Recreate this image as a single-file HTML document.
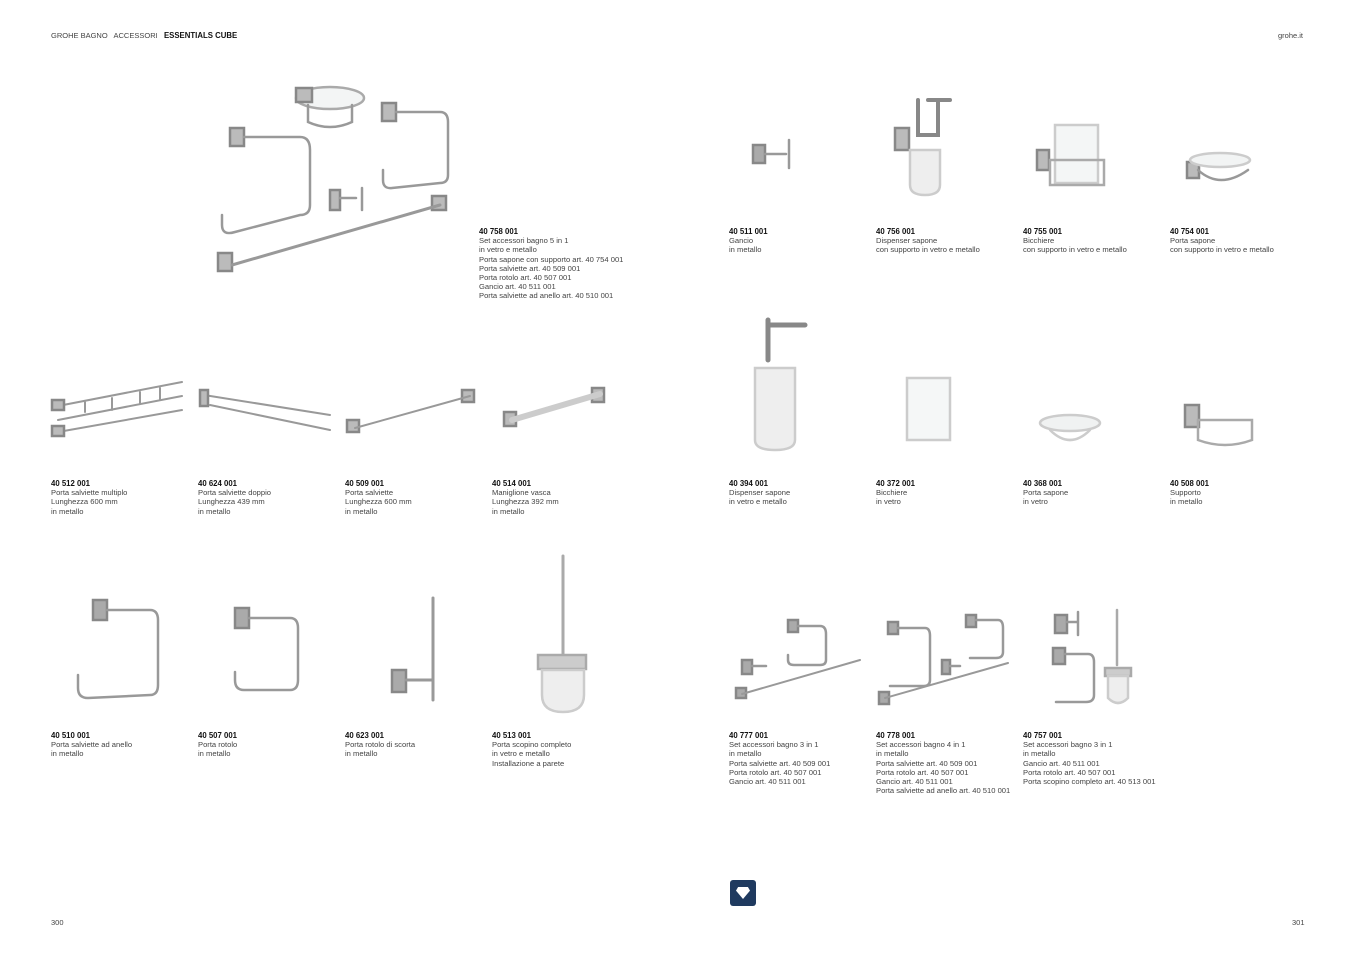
<!DOCTYPE html>
<html><head><meta charset="utf-8"><style>
body{margin:0;width:1355px;height:958px;background:#fff;position:relative;overflow:hidden;font-family:"Liberation Sans",sans-serif;color:#333}
.t{position:absolute;font-size:7.6px;line-height:9.2px;white-space:nowrap;color:#444}
.t b{color:#111;font-size:7.8px}
svg{position:absolute;left:0;top:0}
</style></head><body>
<div class="t" style="left:51px;top:31px;font-size:7.5px">GROHE BAGNO&nbsp;&nbsp; ACCESSORI&nbsp;&nbsp; <b>ESSENTIALS CUBE</b></div>
<div class="t" style="left:1278px;top:31px;font-size:7.5px">grohe.it</div>
<div class="t" style="left:51px;top:918px;font-size:7.5px">300</div>
<div class="t" style="left:1292px;top:918px;font-size:7.5px">301</div>
<div style="position:absolute;left:730px;top:880px;width:26px;height:26px;background:#1f3a5f;border-radius:3px"></div>
<div style="position:absolute;left:736px;top:887px;width:14px;height:12px;background:#fff;clip-path:polygon(15% 0,85% 0,100% 30%,50% 100%,0 30%)"></div>

<div class="t" style="left:479px;top:227px"><b>40 758 001</b><br>Set accessori bagno 5 in 1<br>in vetro e metallo<br>Porta sapone con supporto art. 40 754 001<br>Porta salviette art. 40 509 001<br>Porta rotolo art. 40 507 001<br>Gancio art. 40 511 001<br>Porta salviette ad anello art. 40 510 001</div>
<div class="t" style="left:729px;top:227px"><b>40 511 001</b><br>Gancio<br>in metallo</div>
<div class="t" style="left:876px;top:227px"><b>40 756 001</b><br>Dispenser sapone<br>con supporto in vetro e metallo</div>
<div class="t" style="left:1023px;top:227px"><b>40 755 001</b><br>Bicchiere<br>con supporto in vetro e metallo</div>
<div class="t" style="left:1170px;top:227px"><b>40 754 001</b><br>Porta sapone<br>con supporto in vetro e metallo</div>

<div class="t" style="left:51px;top:479px"><b>40 512 001</b><br>Porta salviette multiplo<br>Lunghezza 600 mm<br>in metallo</div>
<div class="t" style="left:198px;top:479px"><b>40 624 001</b><br>Porta salviette doppio<br>Lunghezza 439 mm<br>in metallo</div>
<div class="t" style="left:345px;top:479px"><b>40 509 001</b><br>Porta salviette<br>Lunghezza 600 mm<br>in metallo</div>
<div class="t" style="left:492px;top:479px"><b>40 514 001</b><br>Maniglione vasca<br>Lunghezza 392 mm<br>in metallo</div>
<div class="t" style="left:729px;top:479px"><b>40 394 001</b><br>Dispenser sapone<br>in vetro e metallo</div>
<div class="t" style="left:876px;top:479px"><b>40 372 001</b><br>Bicchiere<br>in vetro</div>
<div class="t" style="left:1023px;top:479px"><b>40 368 001</b><br>Porta sapone<br>in vetro</div>
<div class="t" style="left:1170px;top:479px"><b>40 508 001</b><br>Supporto<br>in metallo</div>

<div class="t" style="left:51px;top:731px"><b>40 510 001</b><br>Porta salviette ad anello<br>in metallo</div>
<div class="t" style="left:198px;top:731px"><b>40 507 001</b><br>Porta rotolo<br>in metallo</div>
<div class="t" style="left:345px;top:731px"><b>40 623 001</b><br>Porta rotolo di scorta<br>in metallo</div>
<div class="t" style="left:492px;top:731px"><b>40 513 001</b><br>Porta scopino completo<br>in vetro e metallo<br>Installazione a parete</div>
<div class="t" style="left:729px;top:731px"><b>40 777 001</b><br>Set accessori bagno 3 in 1<br>in metallo<br>Porta salviette art. 40 509 001<br>Porta rotolo art. 40 507 001<br>Gancio art. 40 511 001</div>
<div class="t" style="left:876px;top:731px"><b>40 778 001</b><br>Set accessori bagno 4 in 1<br>in metallo<br>Porta salviette art. 40 509 001<br>Porta rotolo art. 40 507 001<br>Gancio art. 40 511 001<br>Porta salviette ad anello art. 40 510 001</div>
<div class="t" style="left:1023px;top:731px"><b>40 757 001</b><br>Set accessori bagno 3 in 1<br>in metallo<br>Gancio art. 40 511 001<br>Porta rotolo art. 40 507 001<br>Porta scopino completo art. 40 513 001</div>

<svg width="1355" height="958" fill="none" stroke="#999" stroke-width="2.5" stroke-linecap="round">
<rect x="230" y="128" width="14" height="18" fill="#bbb" stroke="#888"/><path d="M244 137H300Q310 137 310 150V205Q310 215 300 215L235 232Q222 236 222 225V215"/>
<ellipse cx="330" cy="98" rx="34" ry="11" stroke="#aaa" fill="#f3f5f5"/><rect x="296" y="88" width="16" height="14" fill="#bbb" stroke="#888"/><path d="M308 105V122Q330 132 352 122V105"/>
<rect x="382" y="103" width="14" height="18" fill="#bbb" stroke="#888"/><path d="M396 112H440Q448 112 448 122V175Q448 183 440 183L392 188Q383 189 383 180V170"/>
<rect x="330" y="190" width="10" height="20" fill="#bbb" stroke="#888"/><path d="M340 198H356"/><path d="M362 188V210"/>
<rect x="218" y="253" width="14" height="18" fill="#bbb" stroke="#888"/><rect x="432" y="196" width="14" height="14" fill="#bbb" stroke="#888"/><path d="M232 265L440 205" stroke-width="3"/>
<rect x="753" y="145" width="12" height="18" fill="#aaa" stroke="#888"/><path d="M765 154H786M789 140V168"/>
<rect x="895" y="128" width="14" height="22" fill="#bbb" stroke="#888"/><path d="M910 150H940V185Q940 195 925 195Q910 195 910 185Z" fill="#eee" stroke="#ccc"/><path d="M918 100V135H938V100M928 100H950" stroke="#888" stroke-width="4"/>
<rect x="1037" y="150" width="12" height="20" fill="#bbb" stroke="#888"/><path d="M1055 125H1098V183H1055Z" fill="#f4f6f6" stroke="#ccc"/><path d="M1050 160H1104V185H1050Z" stroke="#aaa"/>
<rect x="1187" y="162" width="12" height="16" fill="#bbb" stroke="#888"/><ellipse cx="1220" cy="160" rx="30" ry="7" fill="#f2f4f4" stroke="#ccc"/><path d="M1198 170Q1220 190 1248 170"/>
<path d="M58 406L182 382M58 420L182 396M58 432L182 410M85 402V412M112 398V410M140 392V404M160 388V400" stroke-width="2"/><rect x="52" y="400" width="12" height="10" fill="#bbb" stroke="#888"/><rect x="52" y="426" width="12" height="10" fill="#bbb" stroke="#888"/>
<path d="M204 395L330 415M210 405L330 430" stroke-width="2"/><rect x="200" y="390" width="8" height="16" fill="#bbb" stroke="#888"/>
<rect x="347" y="420" width="12" height="12" fill="#bbb" stroke="#888"/><rect x="462" y="390" width="12" height="12" fill="#bbb" stroke="#888"/><path d="M355 428L470 396" stroke-width="2"/>
<rect x="504" y="412" width="12" height="14" fill="#bbb" stroke="#888"/><rect x="592" y="388" width="12" height="14" fill="#bbb" stroke="#888"/><path d="M512 420L600 394" stroke-width="6" stroke="#ccc"/>
<path d="M768 320V360M768 325H805" stroke="#888" stroke-width="5"/><path d="M755 368H795V440Q795 450 775 450Q755 450 755 440Z" fill="#eee" stroke="#ccc"/>
<path d="M907 378H950V440H907Z" fill="#f5f7f7" stroke="#ccc"/>
<ellipse cx="1070" cy="423" rx="30" ry="8" fill="#f0f2f2" stroke="#ccc"/><path d="M1050 430Q1070 450 1090 430" stroke="#ccc"/>
<rect x="1185" y="405" width="14" height="22" fill="#bbb" stroke="#888"/><path d="M1198 420H1252V440Q1225 450 1198 440Z" stroke="#aaa"/>
<rect x="93" y="600" width="14" height="20" fill="#aaa" stroke="#888"/><path d="M107 610H150Q158 610 158 620V685Q158 695 150 695L88 698Q78 698 78 688V675"/>
<rect x="235" y="608" width="14" height="20" fill="#aaa" stroke="#888"/><path d="M249 618H290Q298 618 298 628V680Q298 690 290 690H244Q235 690 235 680V672"/>
<rect x="392" y="670" width="14" height="22" fill="#aaa" stroke="#888"/><path d="M406 680H432M433 598V700" stroke-width="3"/>
<path d="M563 556V655" stroke="#aaa" stroke-width="3"/><rect x="538" y="655" width="48" height="14" fill="#ccc" stroke="#aaa"/><path d="M542 670H584V695Q584 712 563 712Q542 712 542 695Z" fill="#eee" stroke="#ccc"/>
<rect x="742" y="660" width="10" height="14" fill="#aaa" stroke="#888"/><path d="M752 666H766"/><rect x="788" y="620" width="10" height="12" fill="#aaa" stroke="#888"/><path d="M798 626H820Q826 626 826 634V660Q826 665 820 665H794Q788 665 788 660V655"/><rect x="736" y="688" width="10" height="10" fill="#aaa" stroke="#888"/><path d="M742 694L860 660" stroke-width="2"/>
<rect x="888" y="622" width="10" height="12" fill="#aaa" stroke="#888"/><path d="M898 628H925Q930 628 930 636V680Q930 686 924 686H890"/><rect x="966" y="615" width="10" height="12" fill="#aaa" stroke="#888"/><path d="M976 620H998Q1003 620 1003 628V652Q1003 658 996 658H970"/><rect x="942" y="660" width="8" height="14" fill="#aaa" stroke="#888"/><path d="M950 666H960"/><rect x="879" y="692" width="10" height="12" fill="#aaa" stroke="#888"/><path d="M885 698L1008 663" stroke-width="2"/>
<rect x="1055" y="615" width="12" height="18" fill="#aaa" stroke="#888"/><path d="M1067 622H1077M1078 612V635"/><rect x="1053" y="648" width="12" height="16" fill="#aaa" stroke="#888"/><path d="M1065 654H1088Q1094 654 1094 662V695Q1094 702 1086 702H1056"/><path d="M1117 610V665" stroke="#aaa"/><rect x="1105" y="668" width="26" height="8" fill="#ccc" stroke="#aaa"/><path d="M1108 676H1128V698Q1118 708 1108 698Z" fill="#eee" stroke="#ccc"/>
</svg>
</body></html>
